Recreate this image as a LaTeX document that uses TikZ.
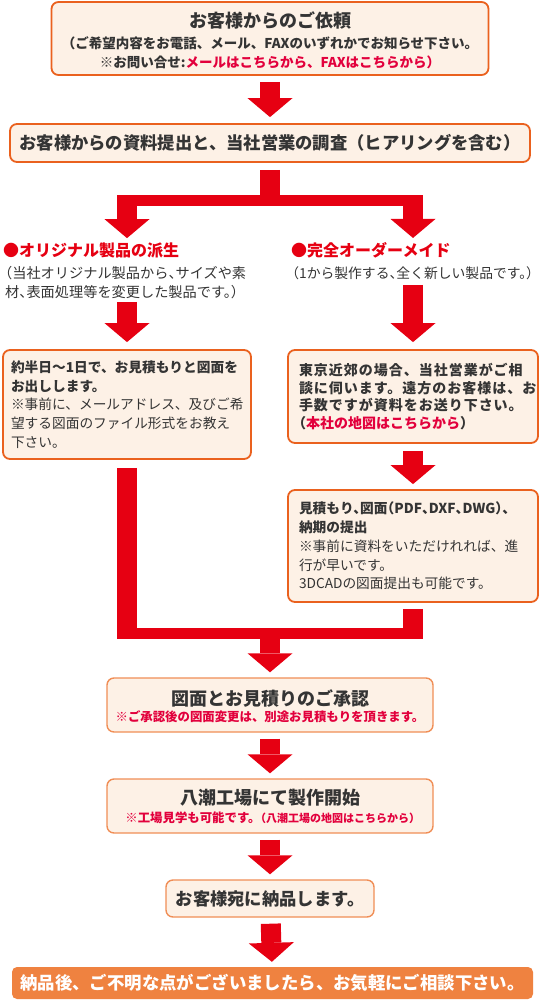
\documentclass[tikz,border=0pt]{standalone}
\usepackage{fontspec}
\setmainfont{Noto Sans CJK JP}
\newfontfamily\halfjp{Noto Sans CJK JP}[RawFeature=+halt]
\newfontfamily\widejp{Noto Sans CJK JP}[LetterSpace=7]
\usetikzlibrary{arrows.meta,positioning}
\definecolor{FlowOrange}{RGB}{234,97,30}
\definecolor{SoftOrange}{RGB}{240,142,86}
\definecolor{FlowCream}{RGB}{253,241,230}
\definecolor{FlowRed}{RGB}{230,0,18}
\definecolor{LinkRed}{RGB}{226,0,60}
\definecolor{TextGray}{RGB}{52,52,52}
\definecolor{FinalOrange}{RGB}{239,130,64}
\begin{document}
\begin{tikzpicture}[x=1pt,y=-1pt,
  fbox/.style={draw=FlowOrange,fill=FlowCream,line width=1.8pt,rounded corners=7pt,
               inner sep=0pt,text=TextGray},
  sbox/.style={draw=SoftOrange,fill=FlowCream,line width=1.4pt,rounded corners=7pt,
               inner sep=0pt,text=TextGray},
  ttl/.style={inner sep=0pt,text=TextGray,font=\fontsize{18}{22}\selectfont\bfseries},
  txt/.style={inner sep=0pt,text=TextGray,align=left,font=\fontsize{13.5}{18.8}\selectfont},
  redtxt/.style={inner sep=0pt,text=LinkRed,font=\fontsize{12.4}{15}\selectfont\bfseries},
  head/.style={inner sep=0pt,anchor=west,text=FlowRed,font=\fontsize{16}{20}\selectfont\bfseries},
  bigarrow/.style={draw=FlowRed,line width=20pt,-{Triangle[width=45pt,length=19pt,line width=0pt]}},
  shaft/.style={draw=FlowRed,line width=20pt},
  bar/.style={draw=FlowRed,line width=11pt},
]
\useasboundingbox (0,0) rectangle (539,1001);

\node[fbox,minimum width=437,minimum height=73] (req) at (270,38.5) {};
\node[ttl] (reqTitle) at (270,20) {お客様からのご依頼};
\node[txt,align=center,font=\fontsize{13.5}{19}\selectfont\bfseries] (reqNote) at (270,52.5)
  {（ご希望内容をお電話、メール、FAXのいずれかでお知らせ下さい。\\
   ※お問い合せ:\textcolor{LinkRed}{メールはこちらから、FAXはこちらから）}};

\node[fbox,minimum width=520,minimum height=38,font=\fontsize{17.3}{20}\selectfont\bfseries]
  (survey) at (270,143) {お客様からの資料提出と、当社営業の調査（ヒアリングを含む）};

\coordinate (split) at (270,200);
\coordinate (splitL) at (127,200);
\coordinate (splitR) at (413,200);

\node[head] (deriv) at (3,250) {●オリジナル製品の派生};
\node[txt,anchor=west,font=\fontsize{14.2}{19}\halfjp] (derivNote) at (5,282.5)
  {（当社オリジナル製品から、サイズや素\\材、表面処理等を変更した製品です。）};
\node[head] (order) at (291,250) {●完全オーダーメイド};
\node[txt,anchor=west,font=\fontsize{13.8}{19}\halfjp] (orderNote) at (292,273)
  {（1から製作する、全く新しい製品です。）};

\node[fbox,minimum width=248,minimum height=109,text width=232,align=left,
      font=\fontsize{13.7}{18.8}\selectfont] (quote) at (127,404.5)
  {\textbf{約半日〜1日で、お見積もりと図面を}\\
   \textbf{お出しします。}\\
   ※事前に、メールアドレス、及びご希\\
   望する図面のファイル形式をお教え\\
   下さい。};

\node[fbox,minimum width=250,minimum height=93,text width=228,align=left,
      font=\fontsize{14}{17.6}\widejp\bfseries] (visit) at (413,396.5)
  {東京近郊の場合、当社営業がご相\\
   談に伺います。遠方のお客様は、お\\
   手数ですが資料をお送り下さい。\\
   {\halfjp（\textcolor{LinkRed}{本社の地図はこちらから}）}};

\node[fbox,minimum width=250,minimum height=112,text width=228,align=left,
      font=\fontsize{13.7}{18.8}\selectfont] (drawing) at (413,546)
  {{\halfjp\bfseries 見積もり、図面（PDF、DXF、DWG）、}\\
   \textbf{納期の提出}\\
   ※事前に資料をいただけれれば、進\\
   行が早いです。\\
   3DCADの図面提出も可能です。};

\coordinate (merge) at (270,633);
\coordinate (mergeL) at (127,633);
\coordinate (mergeR) at (413,633);

\node[sbox,minimum width=326,minimum height=54] (approve) at (270,705) {};
\node[ttl] (approveTitle) at (270,698) {図面とお見積りのご承認};
\node[redtxt] (approveNote) at (270,717) {※ご承認後の図面変更は、別途お見積もりを頂きます。};

\node[sbox,minimum width=326,minimum height=54] (factory) at (270,806) {};
\node[ttl] (factoryTitle) at (270,798) {八潮工場にて製作開始};
\node[redtxt] (factoryNote) at (270,818)
  {※工場見学も可能です。{\fontsize{11}{12}\halfjp\bfseries（八潮工場の地図はこちらから）}};

\node[sbox,minimum width=208,minimum height=37,font=\fontsize{17.3}{20}\selectfont\bfseries]
  (deliver) at (270,898.5) {お客様宛に納品します。};

\node[fill=FinalOrange,rounded corners=5pt,inner sep=0pt,minimum width=521,minimum height=32,
      text=white,font=\fontsize{17.4}{20}\selectfont\bfseries]
  (closing) at (272.5,983) {納品後、ご不明な点がございましたら、お気軽にご相談下さい。};

\draw[bigarrow,shorten <=6pt,shorten >=6pt] (req) -- (survey);
\draw[shaft,shorten <=7pt] (survey) -- (split);
\draw[bar] ([xshift=-10pt]splitL) -- ([xshift=10pt]splitR);
\draw[bigarrow,shorten >=4pt] (splitL) -- (splitL |- deriv.north);
\draw[bigarrow,shorten >=4pt] (splitR) -- (splitR |- order.north);
\draw[bigarrow,shorten <=3pt,shorten >=7pt] (derivNote.south -| quote) -- (quote);
\draw[bigarrow,shorten <=5pt,shorten >=7pt] (orderNote.south -| visit) -- (visit);
\draw[bigarrow,shorten <=7pt,shorten >=5pt] (visit) -- (drawing);
\draw[shaft,shorten <=8pt] (quote) -- ([yshift=-5.5pt]mergeL);
\draw[shaft,shorten <=6pt] (drawing) -- ([yshift=-5.5pt]mergeR);
\draw[bar] ([xshift=-10pt]mergeL) -- ([xshift=10pt]mergeR);
\draw[bigarrow,shorten >=5pt] (merge) -- (approve);
\foreach \a/\b in {approve/factory,factory/deliver,deliver/closing}
  \draw[bigarrow,shorten <=6pt,shorten >=5pt] (\a) -- (\b);
\end{tikzpicture}
\end{document}
